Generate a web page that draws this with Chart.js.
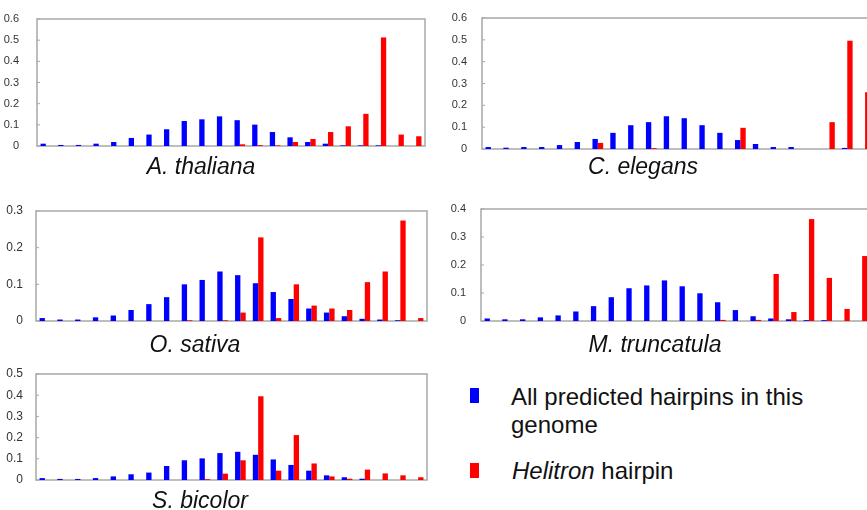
<!DOCTYPE html>
<html><head><meta charset="utf-8">
<script src="https://cdn.jsdelivr.net/npm/chart.js@4/dist/chart.umd.min.js"></script>
<style>
html,body{margin:0;padding:0;background:#fff;overflow:hidden;width:867px;height:510px;}
#stage{position:relative;width:867px;height:510px;overflow:hidden;background:#fff;}
canvas.pc{position:absolute;}
.title{position:absolute;font-family:"Liberation Sans",Arial,sans-serif;font-style:italic;font-size:23px;line-height:23px;color:#111;white-space:nowrap;transform:translateX(-50%);}
.leg{position:absolute;font-family:"Liberation Sans",Arial,sans-serif;font-size:24px;line-height:28px;color:#111;white-space:nowrap;}
.sw{position:absolute;width:9px;height:15px;}
</style></head><body><div id="stage"></div>
<script>
// ---- data ----
const bins = ['1','2','3','4','5','6','7','8','9','10','11','12','13','14','15','16','17','18','19','20','21','22'];
const seriesNames = ['All predicted hairpins in this genome', 'Helitron hairpin'];

const thalianaAll = [0.011,0.005,0.005,0.011,0.019,0.038,0.054,0.079,0.118,0.126,0.140,0.122,0.101,0.066,0.041,0.019,0.011,0.003,0.003,0.003,0,0];
const thalianaHel = [0,0,0,0,0,0,0,0,0,0,0,0.008,0.004,0.003,0.019,0.033,0.066,0.093,0.152,0.513,0.054,0.046];

const elegansAll = [0.009,0.006,0.009,0.009,0.018,0.032,0.046,0.074,0.109,0.123,0.150,0.141,0.109,0.074,0.041,0.023,0.009,0.009,0,0,0.005,0];
const elegansHel = [0,0,0,0,0,0,0.028,0,0,0.004,0,0,0,0,0.097,0,0,0,0,0.123,0.496,0.26];

const sativaAll = [0.008,0.004,0.004,0.010,0.015,0.030,0.046,0.065,0.100,0.112,0.135,0.125,0.103,0.079,0.060,0.034,0.023,0.013,0.006,0.004,0.002,0];
const sativaHel = [0,0,0,0,0,0,0,0,0.002,0,0.002,0.023,0.228,0.008,0.100,0.042,0.034,0.030,0.106,0.135,0.274,0.008];

const truncatulaAll = [0.009,0.006,0.006,0.013,0.020,0.034,0.053,0.085,0.117,0.127,0.145,0.124,0.099,0.067,0.039,0.017,0.009,0.006,0.003,0.003,0,0];
const truncatulaHel = [0,0,0,0,0,0,0,0,0,0,0,0,0,0.004,0,0.004,0.168,0.032,0.364,0.154,0.043,0.232];

const bicolorAll = [0.009,0.005,0.005,0.009,0.017,0.027,0.035,0.066,0.093,0.102,0.127,0.133,0.119,0.097,0.071,0.044,0.022,0.013,0.006,0,0,0];
const bicolorHel = [0,0,0,0,0,0,0,0,0,0.004,0.030,0.093,0.395,0.044,0.212,0.078,0.017,0.006,0.049,0.031,0.022,0.013];

const titles = ['A. thaliana','C. elegans','O. sativa','M. truncatula','S. bicolor'];
const yMaxes = [0.6, 0.6, 0.3, 0.4, 0.5];
const yStep = 0.1;

// ---- layout ----
const panels = [
  {all:thalianaAll, hel:thalianaHel, l:37, t:19, r:425, b:146, font:11, gap:10, tx:201, tb:174},
  {all:elegansAll, hel:elegansHel, l:482, t:18, r:874, b:149, font:11, gap:7, tx:643, tb:174},
  {all:sativaAll, hel:sativaHel, l:36, t:211, r:427, b:321, font:12, gap:5, tx:195, tb:352},
  {all:truncatulaAll, hel:truncatulaHel, l:481, t:209, r:871, b:321, font:11, gap:7, tx:655, tb:352},
  {all:bicolorAll, hel:bicolorHel, l:36, t:374, r:427, b:480, font:12, gap:5, tx:200, tb:508}
];
const BLUE = '#0000ff', RED = '#ff0000';
const AX = 40, PT = 20, PB = 20, PR = 10;

const boxPlugin = {
  id: 'box',
  beforeDatasetsDraw(chart) {
    const {ctx, chartArea: a} = chart;
    ctx.save();
    ctx.strokeStyle = '#a8a8a8';
    ctx.lineWidth = 1.5;
    ctx.strokeRect(a.left, a.top, a.right - a.left, a.bottom - a.top);
    const ys = chart.scales.y;
    ctx.lineWidth = 1;
    ys.ticks.forEach(t => {
      const y = ys.getPixelForValue(t.value);
      ctx.beginPath(); ctx.moveTo(a.left, y); ctx.lineTo(a.left + 3, y); ctx.stroke();
    });
    ctx.restore();
  }
};

const stage = document.getElementById('stage');
panels.forEach((p, i) => {
  const cv = document.createElement('canvas');
  cv.className = 'pc';
  const w = (p.r - p.l) + AX + PR, h = (p.b - p.t) + PT + PB;
  cv.width = w; cv.height = h;
  cv.style.width = w + 'px'; cv.style.height = h + 'px';
  cv.style.left = (p.l - AX) + 'px'; cv.style.top = (p.t - PT) + 'px';
  stage.appendChild(cv);
  const pad = {top: PT, bottom: PB, right: PR, left: 0};
  const chart = new Chart(cv, {
    type: 'bar',
    data: {
      labels: bins,
      datasets: [
        {label: seriesNames[0], data: p.all, backgroundColor: BLUE, borderWidth: 0, categoryPercentage: 0.6, barPercentage: 1.0},
        {label: seriesNames[1], data: p.hel, backgroundColor: RED, borderWidth: 0, categoryPercentage: 0.6, barPercentage: 1.0}
      ]
    },
    options: {
      responsive: false, animation: false, devicePixelRatio: 1,
      layout: {padding: pad},
      plugins: {legend: {display: false}, tooltip: {enabled: false}},
      scales: {
        x: {type: 'category', grid: {display: false}, border: {display: false}, ticks: {display: false}, afterFit(s) { s.height = 0; }},
        y: {min: 0, max: yMaxes[i],
            ticks: {stepSize: yStep, padding: p.gap, color: '#333', font: {family: 'Liberation Sans', size: p.font}},
            grid: {display: false}, border: {display: false},
            afterFit(s) { s.width = AX; }}
      }
    },
    plugins: [boxPlugin]
  });
  // correct padding so that the plot area lands exactly on the wanted rectangle
  for (let k = 0; k < 3; k++) {
    const a = chart.chartArea;
    const dT = a.top - PT, dB = (h - PB) - a.bottom, dL = a.left - AX, dR = (w - PR) - a.right;
    if (Math.abs(dT) < 0.5 && Math.abs(dB) < 0.5 && Math.abs(dL) < 0.5 && Math.abs(dR) < 0.5) break;
    pad.top -= dT; pad.bottom -= dB; pad.left -= dL; pad.right -= dR;
    chart.options.layout.padding = {top: pad.top, bottom: pad.bottom, left: pad.left, right: pad.right};
    chart.update('none');
  }
  const t = document.createElement('div');
  t.className = 'title';
  t.textContent = titles[i];
  t.style.left = p.tx + 'px';
  t.style.top = (p.tb - 19.5) + 'px';
  stage.appendChild(t);
});

// legend
function sw(color, top) {
  const d = document.createElement('div');
  d.className = 'sw'; d.style.background = color; d.style.left = '470px'; d.style.top = top + 'px';
  stage.appendChild(d);
}
sw(BLUE, 388); sw(RED, 463);
const l1 = document.createElement('div');
l1.className = 'leg'; l1.style.left = '511px'; l1.style.top = '383px';
l1.innerHTML = 'All predicted hairpins in this<br>genome';
stage.appendChild(l1);
const l2 = document.createElement('div');
l2.className = 'leg'; l2.style.left = '512px'; l2.style.top = '457px';
l2.innerHTML = '<i>Helitron</i> hairpin';
stage.appendChild(l2);
</script>
</body></html>
